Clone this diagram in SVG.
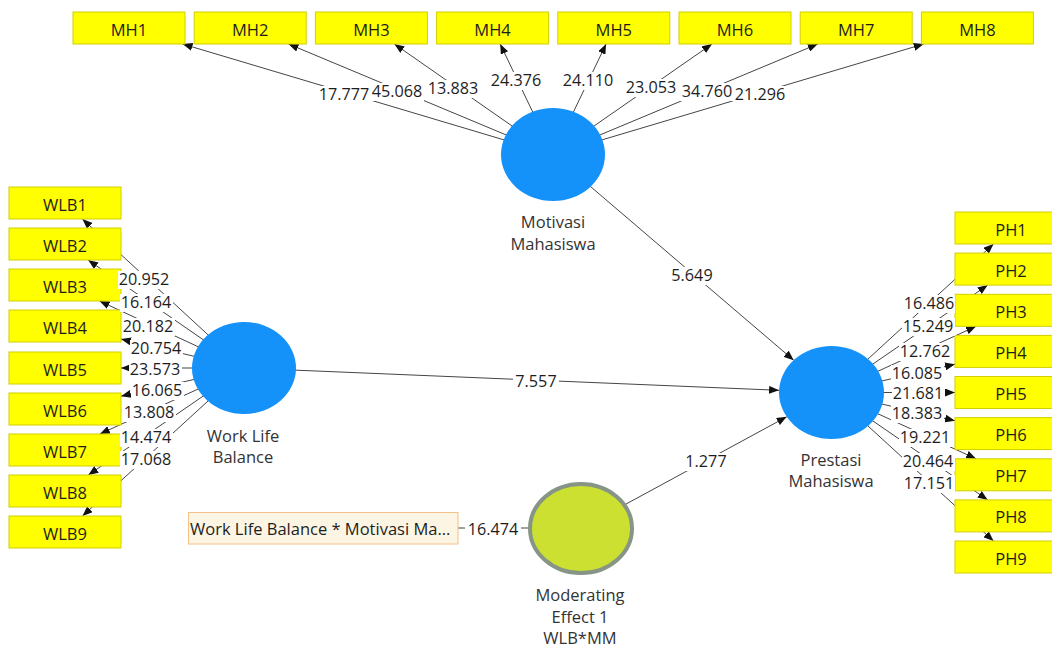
<svg xmlns="http://www.w3.org/2000/svg" width="1052" height="648" viewBox="0 0 1052 648">
<style>
text{font-family:"Open Sans","Noto Sans","DejaVu Sans",sans-serif;font-size:16.5px;fill:#1e1e1e}
.ind rect{fill:#ffff00;stroke:#d2cf00;stroke-width:1}
.ind text{text-anchor:middle}
.lv ellipse{fill:#1591fa}
.lv text{text-anchor:middle;fill:#333}
#connectors line{stroke:#454545;stroke-width:1;fill:none}
#connectors .a{marker-end:url(#arr)}
.lab rect{fill:#fff}
.lab text{text-anchor:middle;font-size:16.2px}
</style>
<defs>
<marker id="arr" markerUnits="userSpaceOnUse" markerWidth="10" markerHeight="8" refX="10" refY="4" orient="auto">
<path d="M0,0 L10,4 L0,8 z" fill="#111"/>
</marker>
</defs>
<rect width="1052" height="648" fill="#fff"/>
<g id="connectors">
<line class="a" x1="553" y1="154.5" x2="182.6" y2="44"/>
<line class="a" x1="553" y1="154.5" x2="288.5" y2="44"/>
<line class="a" x1="553" y1="154.5" x2="394.4" y2="44"/>
<line class="a" x1="553" y1="154.5" x2="500.2" y2="44"/>
<line class="a" x1="553" y1="154.5" x2="606.1" y2="44"/>
<line class="a" x1="553" y1="154.5" x2="712" y2="44"/>
<line class="a" x1="553" y1="154.5" x2="817.8" y2="44"/>
<line class="a" x1="553" y1="154.5" x2="923.7" y2="44"/>
<line class="a" x1="244" y1="368" x2="82.4" y2="219"/>
<line class="a" x1="244" y1="368" x2="88.1" y2="260"/>
<line class="a" x1="244" y1="368" x2="99.5" y2="301"/>
<line class="a" x1="244" y1="368" x2="121" y2="339.1"/>
<line class="a" x1="244" y1="368" x2="121" y2="368"/>
<line class="a" x1="244" y1="368" x2="121" y2="396.2"/>
<line class="a" x1="244" y1="368" x2="99.9" y2="434"/>
<line class="a" x1="244" y1="368" x2="88.3" y2="475"/>
<line class="a" x1="244" y1="368" x2="82.5" y2="516"/>
<line class="a" x1="831.5" y1="392.5" x2="993.5" y2="244"/>
<line class="a" x1="831.5" y1="392.5" x2="987.7" y2="285.1"/>
<line class="a" x1="831.5" y1="392.5" x2="976.1" y2="326.3"/>
<line class="a" x1="831.5" y1="392.5" x2="955" y2="364.2"/>
<line class="a" x1="831.5" y1="392.5" x2="955" y2="392.5"/>
<line class="a" x1="831.5" y1="392.5" x2="955" y2="420.8"/>
<line class="a" x1="831.5" y1="392.5" x2="976.1" y2="458.8"/>
<line class="a" x1="831.5" y1="392.5" x2="987.7" y2="499.9"/>
<line class="a" x1="831.5" y1="392.5" x2="993.5" y2="541"/>
<line class="a" x1="553" y1="154.5" x2="793.7" y2="360.2"/>
<line class="a" x1="244" y1="368" x2="779.1" y2="390.3"/>
<line class="a" x1="581" y1="528.5" x2="786.7" y2="416.8"/>
<line x1="581" y1="528" x2="458" y2="528"/>
</g>
<g id="MH1" class="ind"><rect x="73" y="12" width="112" height="32"/><text x="129" y="36">MH1</text></g>
<g id="MH2" class="ind"><rect x="194.2" y="12" width="112" height="32"/><text x="250.2" y="36">MH2</text></g>
<g id="MH3" class="ind"><rect x="315.4" y="12" width="112" height="32"/><text x="371.4" y="36">MH3</text></g>
<g id="MH4" class="ind"><rect x="436.6" y="12" width="112" height="32"/><text x="492.6" y="36">MH4</text></g>
<g id="MH5" class="ind"><rect x="557.8" y="12" width="112" height="32"/><text x="613.8" y="36">MH5</text></g>
<g id="MH6" class="ind"><rect x="679" y="12" width="112" height="32"/><text x="735" y="36">MH6</text></g>
<g id="MH7" class="ind"><rect x="800.2" y="12" width="112" height="32"/><text x="856.2" y="36">MH7</text></g>
<g id="MH8" class="ind"><rect x="921.4" y="12" width="112" height="32"/><text x="977.4" y="36">MH8</text></g>
<g id="WLB1" class="ind"><rect x="9" y="187" width="112" height="32"/><text x="65" y="211">WLB1</text></g>
<g id="WLB2" class="ind"><rect x="9" y="228" width="112" height="32"/><text x="65" y="252">WLB2</text></g>
<g id="WLB3" class="ind"><rect x="9" y="269" width="112" height="32"/><text x="65" y="293">WLB3</text></g>
<g id="WLB4" class="ind"><rect x="9" y="310" width="112" height="32"/><text x="65" y="334">WLB4</text></g>
<g id="WLB5" class="ind"><rect x="9" y="352" width="112" height="32"/><text x="65" y="376">WLB5</text></g>
<g id="WLB6" class="ind"><rect x="9" y="393" width="112" height="32"/><text x="65" y="417">WLB6</text></g>
<g id="WLB7" class="ind"><rect x="9" y="434" width="112" height="32"/><text x="65" y="458">WLB7</text></g>
<g id="WLB8" class="ind"><rect x="9" y="475" width="112" height="32"/><text x="65" y="499">WLB8</text></g>
<g id="WLB9" class="ind"><rect x="9" y="516" width="112" height="32"/><text x="65" y="540">WLB9</text></g>
<g id="PH1" class="ind"><rect x="955" y="212" width="112" height="32"/><text x="1011" y="236">PH1</text></g>
<g id="PH2" class="ind"><rect x="955" y="253.1" width="112" height="32"/><text x="1011" y="277">PH2</text></g>
<g id="PH3" class="ind"><rect x="955" y="294.3" width="112" height="32"/><text x="1011" y="318">PH3</text></g>
<g id="PH4" class="ind"><rect x="955" y="335.4" width="112" height="32"/><text x="1011" y="359">PH4</text></g>
<g id="PH5" class="ind"><rect x="955" y="376.5" width="112" height="32"/><text x="1011" y="400">PH5</text></g>
<g id="PH6" class="ind"><rect x="955" y="417.6" width="112" height="32"/><text x="1011" y="441">PH6</text></g>
<g id="PH7" class="ind"><rect x="955" y="458.8" width="112" height="32"/><text x="1011" y="482">PH7</text></g>
<g id="PH8" class="ind"><rect x="955" y="499.9" width="112" height="32"/><text x="1011" y="523">PH8</text></g>
<g id="PH9" class="ind"><rect x="955" y="541" width="112" height="32"/><text x="1011" y="565">PH9</text></g>
<g id="WLBxMM"><rect x="188.5" y="512.5" width="269.5" height="31.5" fill="#fdf5e3" stroke="#f3c189" stroke-width="1"/><text x="190" y="535">Work Life Balance * Motivasi Ma...</text></g>
<g id="MotivasiMahasiswa" class="lv"><ellipse cx="553" cy="154.5" rx="52" ry="46.5"/><text x="553" y="228">Motivasi</text><text x="553" y="250">Mahasiswa</text></g>
<g id="WorkLifeBalance" class="lv"><ellipse cx="244" cy="368" rx="52" ry="46"/><text x="243" y="442">Work Life</text><text x="243" y="463">Balance</text></g>
<g id="PrestasiMahasiswa" class="lv"><ellipse cx="831.5" cy="392.5" rx="52.5" ry="46.5"/><text x="831" y="466">Prestasi</text><text x="831" y="487">Mahasiswa</text></g>
<g id="ModeratingEffect1" class="lv"><ellipse cx="581" cy="528.5" rx="51" ry="44.5" style="fill:#cbe030;stroke:#869585;stroke-width:4"/><text x="580" y="601">Moderating</text><text x="580" y="623">Effect 1</text><text x="580" y="644">WLB*MM</text></g>
<g class="lab">
<rect x="317" y="86" width="54" height="18"/><text x="344" y="100">17.777</text>
<rect x="370" y="83" width="54" height="18"/><text x="397" y="97">45.068</text>
<rect x="426" y="80" width="54" height="18"/><text x="453" y="94">13.883</text>
<rect x="489" y="72" width="54" height="18"/><text x="516" y="86">24.376</text>
<rect x="561" y="72" width="54" height="18"/><text x="588" y="86">24.110</text>
<rect x="624" y="79" width="54" height="18"/><text x="651" y="93">23.053</text>
<rect x="680" y="83" width="54" height="18"/><text x="707" y="97">34.760</text>
<rect x="733" y="86" width="54" height="18"/><text x="760" y="100">21.296</text>
<rect x="118" y="271" width="53" height="18"/><text x="144" y="285">20.952</text>
<rect x="120" y="294" width="53" height="18"/><text x="146" y="308">16.164</text>
<rect x="122" y="318" width="53" height="18"/><text x="148" y="332">20.182</text>
<rect x="130" y="340" width="53" height="18"/><text x="156" y="354">20.754</text>
<rect x="129" y="361" width="53" height="18"/><text x="155" y="375">23.573</text>
<rect x="131" y="382" width="53" height="18"/><text x="157" y="396">16.065</text>
<rect x="123" y="404" width="53" height="18"/><text x="149" y="418">13.808</text>
<rect x="120" y="429" width="53" height="18"/><text x="146" y="443">14.474</text>
<rect x="120" y="451" width="53" height="18"/><text x="146" y="465">17.068</text>
<rect x="903" y="295" width="52" height="18"/><text x="929" y="309">16.486</text>
<rect x="902" y="318" width="53" height="18"/><text x="928" y="332">15.249</text>
<rect x="899" y="343" width="53" height="18"/><text x="925" y="357">12.762</text>
<rect x="891" y="365" width="53" height="18"/><text x="917" y="379">16.085</text>
<rect x="892" y="385" width="53" height="18"/><text x="918" y="399">21.681</text>
<rect x="891" y="405" width="53" height="18"/><text x="917" y="419">18.383</text>
<rect x="899" y="429" width="53" height="18"/><text x="925" y="443">19.221</text>
<rect x="902" y="453" width="53" height="18"/><text x="928" y="467">20.464</text>
<rect x="903" y="475" width="52" height="18"/><text x="929" y="489">17.151</text>
<rect x="670" y="267" width="45" height="18"/><text x="692" y="281">5.649</text>
<rect x="513" y="373" width="46" height="18"/><text x="536" y="387">7.557</text>
<rect x="684" y="453" width="45" height="18"/><text x="706" y="467">1.277</text>
<rect x="465" y="521" width="56" height="18"/><text x="493" y="535">16.474</text>
</g>
</svg>
